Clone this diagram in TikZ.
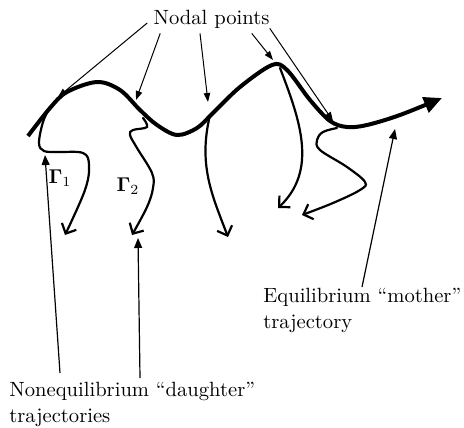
\documentclass[tikz,border=0pt]{standalone}
\usetikzlibrary{arrows.meta,calc}

\begin{document}
\begin{tikzpicture}[x=0.5pt,y=-0.5pt,font=\fontsize{10.3}{12.8}\selectfont]
\tikzstyle{lbl}=[inner sep=0pt,align=left]
\tikzstyle{tip}=[line width=0.5pt,-{Triangle[length=4.5pt,width=3.2pt]}]
\tikzstyle{ptr}=[line width=0.6pt,-{Triangle[length=5pt,width=4pt]}]
\tikzstyle{trj}=[line width=1.1pt,line cap=round,-{Straight Barb[length=4pt,width=8pt,line width=1.1pt]}]
\useasboundingbox (0,0) rectangle (464,427);
% mother trajectory
\draw[line width=2pt,-{Triangle[length=9pt,width=8pt]}] plot[smooth,tension=0.55] coordinates {(28,136) (50,108) (67,92) (97,82) (120,90) (140,110) (157,125) (177,135) (197,128) (213,113) (240,87) (272,65) (287,70) (310,100) (330,121) (347,127) (367,125) (400,115) (442,98)};
% daughter trajectories
\draw[trj] plot[smooth,tension=0.6] coordinates {(50,107) (43,122) (39,143) (44,151) (58,152) (83,153) (89,165) (85,190) (65,235)};
\draw[trj] plot[smooth,tension=0.6] coordinates {(143,118) (147,127) (133,130) (130,135) (137,148) (152,173) (153,188) (147,207) (132,235)};
\draw[trj] (210,115) .. controls (198,165) and (212,195) .. (228,237);
\draw[trj] (280,68) .. controls (300,120) and (318,170) .. (278,208);
\draw[trj] plot[smooth,tension=0.6] coordinates {(337,128) (323,132) (317,140) (320,150) (347,167) (365,182) (360,190) (333,203) (302,215)};
\node (g1) at (60,178) {$\mathbf{\Gamma}_1$};
\node (g2) at (128,186) {$\mathbf{\Gamma}_2$};
% nodal points
\coordinate (n1) at (58,97);
\coordinate (n2) at (136,100);
\coordinate (n3) at (208,102);
\coordinate (n4) at (273,60);
\coordinate (n5) at (333,121);
\node[lbl,anchor=base] (nodal) at (211.5,25) {Nodal points};
\draw[tip] ($(nodal.base west)+(-6,-2)$) -- (n1);
\draw[tip] ($(nodal.south west)+(7,4)$) -- (n2);
\draw[tip] ($(nodal.south)+(-11.5,4)$) -- (n3);
\draw[tip] ($(nodal.south east)+(-18,4)$) -- (n4);
\draw[tip] ($(nodal.south east)+(0,-1)$) -- (n5);
% labels below
\coordinate (d1) at (45,155);
\coordinate (d2) at (138,238);
\coordinate (m1) at (395,129);
\node[lbl,anchor=north west] (mother) at (263,288) {Equilibrium ``mother''\\trajectory};
\node[lbl,anchor=north west] (daughter) at (9,382) {Nonequilibrium ``daughter''\\trajectories};
\draw[ptr] ($(mother.north west)+(99,-1)$) -- (m1);
\draw[ptr] ($(daughter.north west)+(51,-9)$) -- (d1);
\draw[ptr] ($(daughter.north west)+(131,-4)$) -- (d2);
\end{tikzpicture}
\end{document}
